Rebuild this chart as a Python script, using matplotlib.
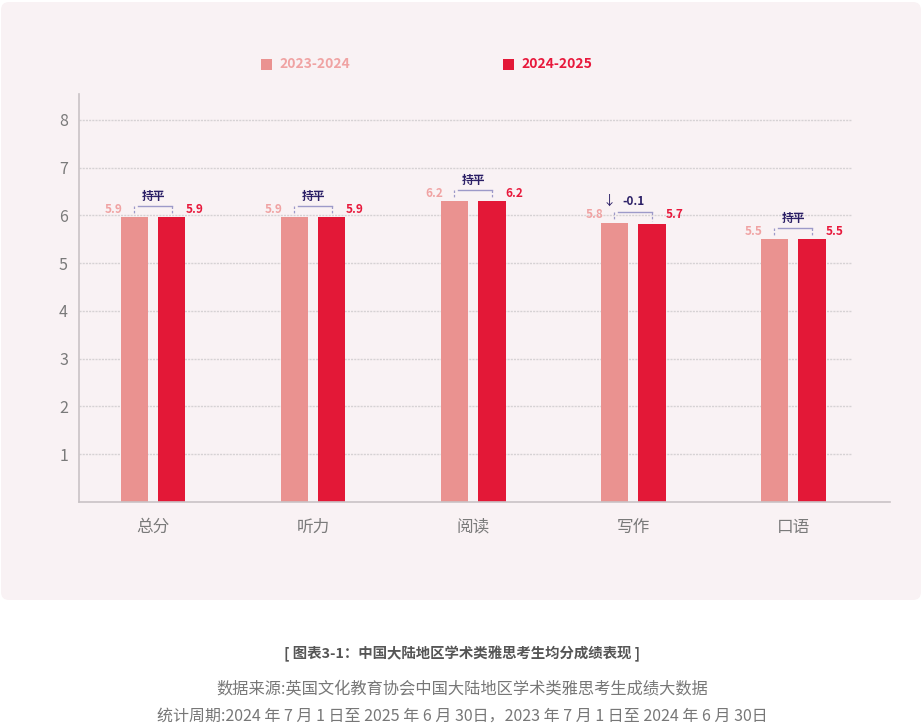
import matplotlib
matplotlib.use("Agg")
import matplotlib.pyplot as plt
from matplotlib.patches import FancyBboxPatch, Rectangle
import numpy as np

plt.rcParams['font.family'] = ['Noto Sans CJK SC', 'DejaVu Sans']

# ---- data ----
categories = ["总分", "听力", "阅读", "写作", "口语"]
series_names = ["2023-2024", "2024-2025"]
values_2324 = [5.96, 5.96, 6.29, 5.85, 5.50]
values_2425 = [5.96, 5.96, 6.29, 5.82, 5.50]
labels_2324 = ["5.9", "5.9", "6.2", "5.8", "5.5"]
labels_2425 = ["5.9", "5.9", "6.2", "5.7", "5.5"]
change_text = ["持平", "持平", "持平", "-0.1", "持平"]
change_arrow = ["", "", "", "↓", ""]
yticks = [1, 2, 3, 4, 5, 6, 7, 8]
caption = "[ 图表3-1：中国大陆地区学术类雅思考生均分成绩表现 ]"
source = "数据来源:英国文化教育协会中国大陆地区学术类雅思考生成绩大数据"
period = "统计周期:2024 年 7 月 1 日至 2025 年 6 月 30日，2023 年 7 月 1 日至 2024 年 6 月 30日"

# ---- style ----
c_light = "#ea9290"
c_dark = "#e31837"
c_light_txt = "#f0a3a3"
c_dark_txt = "#e8193c"
c_navy = "#2b1f66"
c_bracket = "#9d9ac9"
panel_color = "#f9f2f4"

W, H = 924, 726
fig = plt.figure(figsize=(W / 100, H / 100), dpi=100)
fig.patch.set_facecolor("white")

# background panel
panel = FancyBboxPatch((1 / 100, (H - 600) / 100), 920 / 100, 598 / 100,
                       boxstyle="round,pad=0,rounding_size=0.08",
                       transform=fig.dpi_scale_trans, facecolor=panel_color,
                       edgecolor="none", zorder=-10)
fig.patches.append(panel)

ax_l, ax_r, ax_t, ax_b = 79, 890, 94, 502
ax = fig.add_axes([ax_l / W, (H - ax_b) / H, (ax_r - ax_l) / W, (ax_b - ax_t) / H])
ax.set_facecolor("none")
ax.set_zorder(1)

x = np.arange(len(categories))
off = 0.118
bw = 0.17
ax.set_xlim(-0.4625, 4.606)
ax.set_ylim(0, 8.54)

# grid lines (ending before the right end of the axis)
ax.hlines(yticks, -0.4625, 4.369, colors="#d6d2d4", linewidth=1.0,
          linestyles=(0, (1.5, 0.8)), zorder=1)

ax.bar(x - off, values_2324, width=bw, color=c_light, zorder=2)
ax.bar(x + off, values_2425, width=bw, color=c_dark, zorder=2)

for sp in ["top", "right"]:
    ax.spines[sp].set_visible(False)
for sp in ["left", "bottom"]:
    ax.spines[sp].set_color("#c9c3c6")
    ax.spines[sp].set_linewidth(1.2)

ax.set_yticks(yticks)
ax.set_yticklabels([str(t) for t in yticks], fontsize=11.5, color="#7a7a7a")
ax.set_xticks(x)
ax.set_xticklabels(categories, fontsize=12, color="#7a7a7a")
ax.tick_params(axis="y", length=0, pad=8)
ax.tick_params(axis="x", length=0, pad=12)

upx = 8.54 / (ax_b - ax_t)  # data units per pixel
for i in range(len(categories)):
    top = max(values_2324[i], values_2425[i])
    ly = top + 8 * upx
    ax.text(i - 0.188, ly, labels_2324[i], ha="right", va="center", fontsize=8.5,
            fontweight="bold", color=c_light_txt, zorder=3)
    ax.text(i + 0.205, ly, labels_2425[i], ha="left", va="center", fontsize=8.5,
            fontweight="bold", color=c_dark_txt, zorder=3)
    by = top + 11 * upx
    xl, xr = i - off, i + off
    ax.plot([xl, xl], [by, values_2324[i] + 3 * upx], color=c_bracket, lw=0.9,
            ls=(0, (2, 1.5)), zorder=3)
    ax.plot([xr, xr], [by, values_2425[i] + 3 * upx], color=c_bracket, lw=0.9,
            ls=(0, (2, 1.5)), zorder=3)
    ax.plot([xl + 0.025, xr], [by, by], color=c_bracket, lw=1.0, zorder=3)
    ty = top + 21 * upx
    ax.text(i, ty, change_text[i], ha="center", va="center", fontsize=8.5,
            fontweight="bold", color=c_navy, zorder=3)
    if change_arrow[i]:
        ax.text(i - 0.15, ty, change_arrow[i], ha="center", va="center",
                fontsize=9.5, color=c_navy, zorder=3)

# legend
leg = [(260.7, c_light, c_light_txt), (502.7, c_dark, c_dark_txt)]
for (lx, fc, tc), name in zip(leg, series_names):
    fig.patches.append(Rectangle((lx / W, (H - 70) / H), 11.5 / W, 11.5 / H,
                                 transform=fig.transFigure, facecolor=fc,
                                 edgecolor="none", zorder=2))
    fig.text((lx + 18.5) / W, (H - 64) / H, name, ha="left", va="center",
             fontsize=10, fontweight="bold", color=tc)

# captions
fig.text(462 / W, (H - 654) / H, caption, ha="center", va="center", fontsize=10.4,
         fontweight="bold", color="#555555")
fig.text(462 / W, (H - 689) / H, source, ha="center", va="center", fontsize=11.7,
         color="#777777")
fig.text(462 / W, (H - 716) / H, period, ha="center", va="center", fontsize=11.5,
         color="#777777")

fig.savefig("out.png", dpi=100, facecolor=fig.get_facecolor())
